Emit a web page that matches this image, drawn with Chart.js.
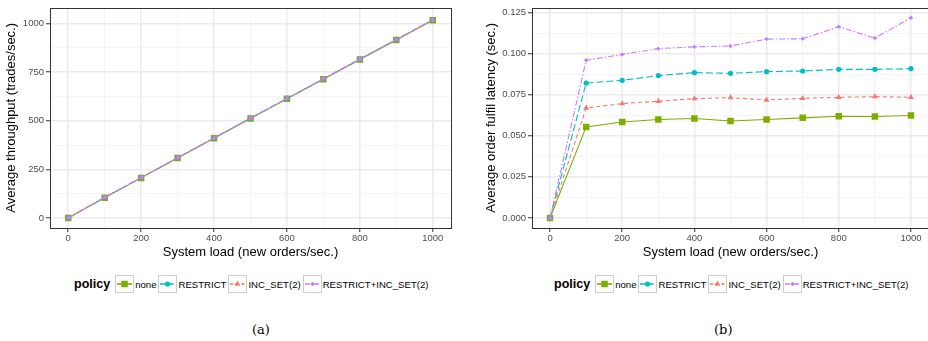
<!DOCTYPE html>
<html>
<head>
<meta charset="utf-8">
<script src="https://cdn.jsdelivr.net/npm/chart.js@4"></script>
<style>
  body { margin: 0; width: 928px; height: 341px; overflow: hidden; background: #fff;
         font-family: "Liberation Sans", Arial, sans-serif; position: relative; }
  .panel { position: absolute; top: 0; height: 260px; }
  #p1 { left: 0; width: 464px; }
  #p2 { left: 464px; width: 470px; }
  .legend { position: absolute; top: 275px; display: flex; align-items: center;
            font-size: 9.6px; color: #000; white-space: nowrap; }
  .legend b { font-size: 12.5px; margin-right: 5px; }
  .legend canvas { margin-right: 1px; }
  .legend span { margin-right: 2px; }
  .cap { position: absolute; top: 322px; font-family: "DejaVu Serif", serif; font-size: 13px; }
</style>
</head>
<body>
<div class="panel" id="p1"><canvas id="chartA" width="464" height="260"></canvas></div>
<div class="panel" id="p2"><canvas id="chartB" width="470" height="260"></canvas></div>
<div class="legend" id="legA" style="left:74px"></div>
<div class="legend" id="legB" style="left:554px"></div>
<div class="cap" style="left:252px">(a)</div>
<div class="cap" style="left:714px">(b)</div>

<script>
// data
const loads = [0, 100, 200, 300, 400, 500, 600, 700, 800, 900, 1000];
const policies = ['none', 'RESTRICT', 'INC_SET(2)', 'RESTRICT+INC_SET(2)'];

const throughputNone     = [0, 104, 206, 308, 410, 512, 613, 714, 815, 916, 1017];
const throughputRestrict = [0, 105, 207, 309, 411, 513, 614, 715, 817, 918, 1019];
const throughputIncSet   = [0, 105, 207, 309, 411, 513, 614, 715, 817, 918, 1019];
const throughputBoth     = [0, 106, 208, 310, 412, 514, 615, 717, 818, 919, 1020];

const latencyNone     = [0, 0.0554, 0.0584, 0.0599, 0.0605, 0.0590, 0.0599, 0.0609, 0.0619, 0.0617, 0.0623];
const latencyRestrict = [0, 0.0821, 0.0837, 0.0866, 0.0884, 0.0880, 0.0890, 0.0894, 0.0904, 0.0904, 0.0908];
const latencyIncSet   = [0, 0.0669, 0.0696, 0.0710, 0.0726, 0.0732, 0.0718, 0.0728, 0.0734, 0.0738, 0.0734];
const latencyBoth     = [0, 0.0959, 0.0995, 0.1030, 0.1041, 0.1046, 0.1088, 0.1090, 0.1163, 0.1094, 0.1218];

const xMajorTicks = [0, 200, 400, 600, 800, 1000];
const xMinorTicks = [100, 300, 500, 700, 900];
const throughputMajorTicks = [0, 250, 500, 750, 1000];
const throughputMinorTicks = [125, 375, 625, 875];
const latencyMajorTicks = [0, 0.025, 0.05, 0.075, 0.1, 0.125];
const latencyMinorTicks = [0.0125, 0.0375, 0.0625, 0.0875, 0.1125];

// look of each policy (ggplot default hues)
const colors = ['#7CAE00', '#00BFC4', '#F8766D', '#C77CFF'];
const dashes = [[], [7, 3], [4, 3], [6, 2, 1.5, 2]];
const shapes = ['rect', 'circle', 'triangle', 'rectRot'];
const radii = [4.6, 2.6, 3.4, 2.2];

const FONT = '"Liberation Sans", Arial, sans-serif';
const isIn = (list, v) => list.some(t => Math.abs(t - v) < 1e-9);

const panelBorder = {
  id: 'panelBorder',
  afterDraw(chart) {
    const { ctx, chartArea: a } = chart;
    ctx.save();
    ctx.strokeStyle = '#333333';
    ctx.lineWidth = 1;
    ctx.strokeRect(Math.round(a.left) + 0.5, Math.round(a.top) + 0.5,
      Math.round(a.right - a.left), Math.round(a.bottom - a.top));
    ctx.restore();
  }
};

function gridFor(major) {
  return {
    color: c => isIn(major, c.tick.value) ? '#EBEBEB' : '#F2F2F2',
    lineWidth: c => isIn(major, c.tick.value) ? 1.5 : 0.8,
    tickColor: c => isIn(major, c.tick.value) ? '#333333' : 'rgba(0,0,0,0)',
    tickLength: 4,
    tickWidth: 1
  };
}

function makeChart(id, series, opts) {
  const datasets = series.map((vals, i) => ({
    label: policies[i],
    data: loads.map((x, j) => ({ x: x, y: vals[j] })),
    borderColor: colors[i],
    backgroundColor: colors[i],
    borderWidth: 1.1,
    borderDash: dashes[i],
    pointStyle: shapes[i],
    pointRadius: radii[i],
    pointBorderWidth: 0,
    order: 4 - i
  }));

  return new Chart(document.getElementById(id), {
    type: 'line',
    data: { datasets },
    options: {
      responsive: false,
      animation: false,
      layout: { padding: { top: opts.top, right: opts.right, left: 0, bottom: 0 } },
      plugins: { legend: { display: false }, tooltip: { enabled: false } },
      scales: {
        x: {
          type: 'linear', min: -50, max: 1050,
          afterBuildTicks: s => { s.ticks = xMajorTicks.concat(xMinorTicks).map(v => ({ value: v })); },
          afterFit: s => { s.height = 32; },
          border: { display: false },
          grid: gridFor(xMajorTicks),
          ticks: {
            autoSkip: false, maxRotation: 0, padding: 1, color: '#4D4D4D',
            font: { size: 9.5, family: FONT },
            callback: v => isIn(xMajorTicks, v) ? String(v) : ''
          },
          title: {
            display: true, text: 'System load (new orders/sec.)', color: '#000',
            font: { size: 13, family: FONT },
            padding: { top: 3.5, bottom: 0 }
          }
        },
        y: {
          min: opts.yMin, max: opts.yMax,
          afterBuildTicks: s => { s.ticks = opts.major.concat(opts.minor).map(v => ({ value: v })); },
          afterFit: s => { s.width = opts.axisWidth; },
          border: { display: false },
          grid: gridFor(opts.major),
          ticks: {
            autoSkip: false, padding: 2, color: '#4D4D4D',
            font: { size: 9.5, family: FONT },
            callback: v => isIn(opts.major, v) ? opts.fmt(v) : ''
          },
          title: {
            display: true, text: opts.title, color: '#000',
            font: { size: 13, family: FONT },
            padding: { top: opts.titlePad, bottom: 0 }
          }
        }
      }
    },
    plugins: [panelBorder]
  });
}

function makeLegend(id) {
  const box = document.getElementById(id);
  const title = document.createElement('b');
  title.textContent = 'policy';
  box.appendChild(title);
  policies.forEach((name, i) => {
    const c = document.createElement('canvas');
    c.width = 19; c.height = 18;
    const g = c.getContext('2d');
    g.fillStyle = '#fff';
    g.fillRect(0, 0, 19, 18);
    g.strokeStyle = '#CCCCCC';
    g.lineWidth = 1;
    g.strokeRect(0.5, 0.5, 18, 17);
    g.strokeStyle = colors[i];
    g.lineWidth = 1.6;
    g.setLineDash(dashes[i].map(d => d * 0.8));
    g.beginPath(); g.moveTo(2, 9); g.lineTo(17, 9); g.stroke();
    g.setLineDash([]);
    g.fillStyle = colors[i];
    Chart.helpers.drawPoint(g, { pointStyle: shapes[i], radius: radii[i], borderWidth: 0 }, 9.5, 9);
    box.appendChild(c);
    const t = document.createElement('span');
    t.textContent = name;
    box.appendChild(t);
  });
}

makeChart('chartA', [throughputNone, throughputRestrict, throughputIncSet, throughputBoth], {
  yMin: -52, yMax: 1082, major: throughputMajorTicks, minor: throughputMinorTicks,
  fmt: v => String(v), title: 'Average throughput (trades/sec.)',
  axisWidth: 50, titlePad: 4, top: 6, right: 13
});

makeChart('chartB', [latencyNone, latencyRestrict, latencyIncSet, latencyBoth], {
  yMin: -0.0061, yMax: 0.1279, major: latencyMajorTicks, minor: latencyMinorTicks,
  fmt: v => v.toFixed(3), title: 'Average order fulfil latency (sec.)',
  axisWidth: 68, titlePad: 20, top: 7, right: 5
});

makeLegend('legA');
makeLegend('legB');
</script>
</body>
</html>
